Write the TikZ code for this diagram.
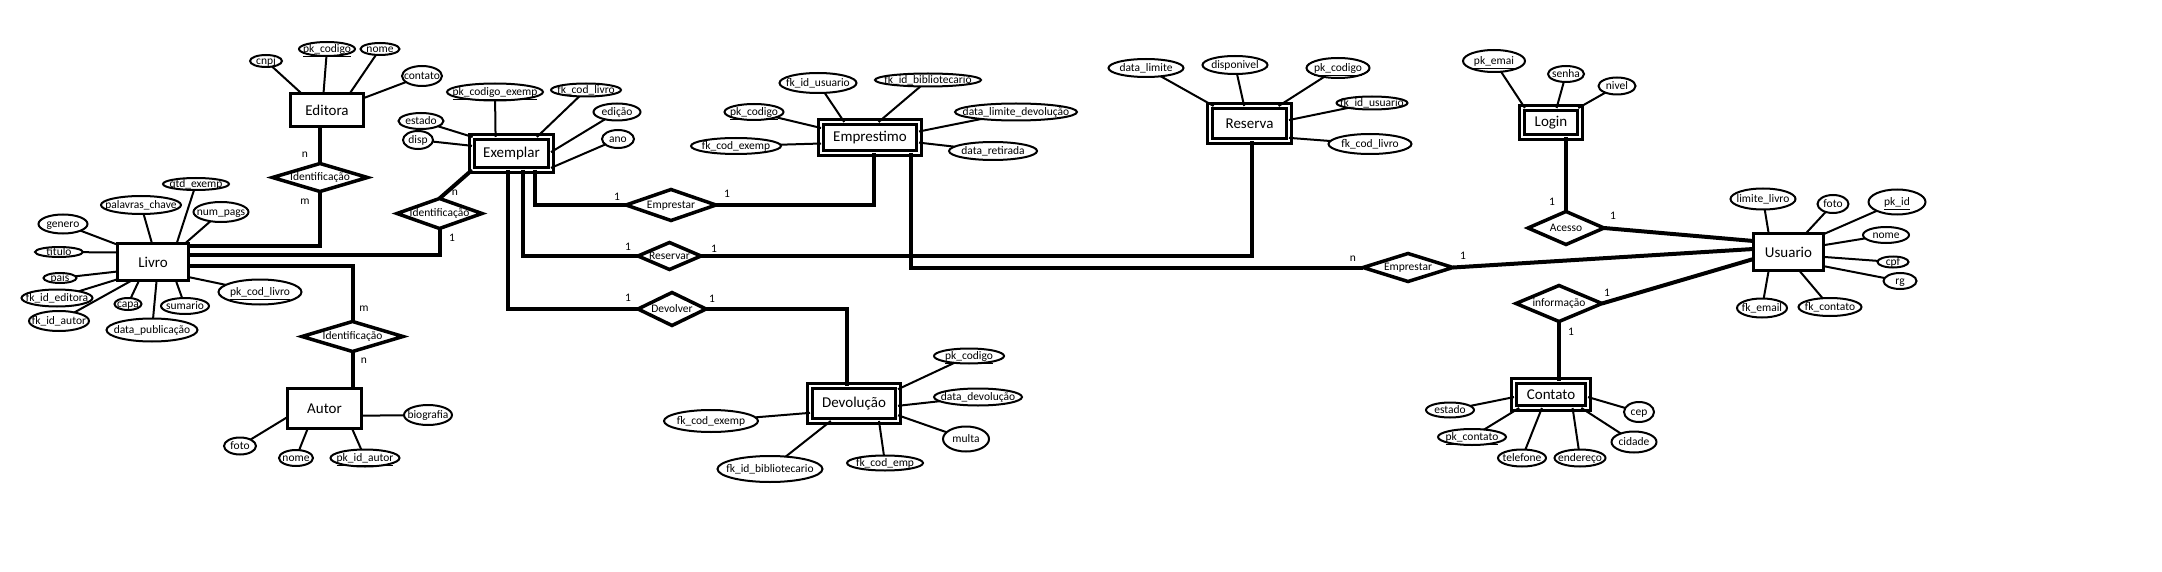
\documentclass[tikz,border=0pt]{standalone}
\usepackage{fontspec}
\setmainfont{Carlito}
\usetikzlibrary{shapes.geometric}
\newcommand{\mytxt}[1]{\makebox[0pt]{\raisebox{-0.3em}[0pt][0pt]{#1}}}
\tikzset{
 ent/.style={draw, line width=3pt, rectangle, inner sep=0pt, outer sep=0pt, font=\fontsize{15}{16}\selectfont},
 went/.style={ent, double, double distance=2pt},
 attr/.style={draw, ellipse, line width=2pt, inner sep=0pt, outer sep=0pt, font=\fontsize{11.5}{12}\selectfont},
 ell/.style 2 args={attr, minimum width=#1, minimum height=#2},
 rel/.style 2 args={draw, diamond, line width=3.5pt, inner sep=0pt, outer sep=0pt, minimum width=#1, minimum height=#2, font=\fontsize{11.5}{12}\selectfont},
 conn/.style={line width=4pt},
 aline/.style={line width=2pt},
 card/.style={inner sep=0pt, font=\fontsize{11.5}{12}\selectfont},
}
\begin{document}
\begin{tikzpicture}[x=1pt,y=-1pt]
\useasboundingbox (0,0) rectangle (2162,572);
% ---------- entities ----------
\node[ent, minimum width=73, minimum height=33] (ed) at (327,110) {Editora};
\node[ent, minimum width=71, minimum height=37] (livro) at (153,262) {Livro};
\node[ent, minimum width=74, minimum height=40] (au) at (324.5,408.5) {Autor};
\node[ent, minimum width=70, minimum height=37] (usr) at (1788.5,252) {Usuario};
\node[went, minimum width=79, minimum height=33] (ex) at (511.5,153.5) {Exemplar};
\node[went, minimum width=98, minimum height=31] (emo) at (870,137.5) {Emprestimo};
\node[went, minimum width=79, minimum height=35] (rsv) at (1249.5,123.5) {Reserva};
\node[went, minimum width=58, minimum height=29] (login) at (1551,122.5) {Login};
\node[went, minimum width=74, minimum height=27] (ct) at (1551,394.5) {Contato};
\node[went, minimum width=88, minimum height=35] (dvl) at (854,403.5) {Devolução};
% ---------- relationships ----------
\node[rel={95}{28}] (idEd) at (320,177.5) {\mytxt{Identificação}};
\node[rel={85}{30}] (idEx) at (439.5,213.5) {\mytxt{Identificação}};
\node[rel={101}{30}] (idAu) at (352.5,336.5) {\mytxt{Identificação}};
\node[rel={90}{31}] (emp1) at (671,205) {\mytxt{Emprestar}};
\node[rel={63}{27}] (res) at (669.5,256) {\mytxt{Reservar}};
\node[rel={68}{33}] (dev) at (672,309) {\mytxt{Devolver}};
\node[rel={90}{28}] (emp2) at (1408,267.5) {\mytxt{Emprestar}};
\node[rel={76}{33}] (ac) at (1566,228) {\mytxt{Acesso}};
\node[rel={86}{36}] (info) at (1559,303.5) {\mytxt{informação}};
% ---------- rail coordinates ----------
\coordinate (r1) at (0,246);
\coordinate (r2) at (0,255);
\coordinate (r3) at (0,266);
% ---------- connectors ----------
\draw[conn] (idEd.north) -- (idEd.north |- ed.south);
\draw[conn] (livro.east |- r1) -| (idEd.south);
\draw[conn] (livro.east |- r2) -| (idEx.south);
\draw[conn] (livro.east |- r3) -| (idAu.north);
\draw[conn] (idEx.north) -- (ex.south west);
\draw[conn] (idAu.south) -- (idAu.south |- au.north);
\draw[conn] ([xshift=23.5pt]ex.south) |- (emp1.west);
\draw[conn] ([xshift=11.5pt]ex.south) |- (res.west);
\draw[conn] ([xshift=-3.5pt]ex.south) |- (dev.west);
\draw[conn] (emp1.east) -| ([xshift=4pt]emo.south);
\draw[conn] (res.east) -| ([xshift=2.5pt]rsv.south);
\draw[conn] (dev.east) -| ([xshift=-7pt]dvl.north);
\draw[conn] ([xshift=41pt]emo.south) |- (emp2.west);
\draw[conn] (emp2.east) -- ([yshift=3pt]usr.west);
\draw[conn] (ac.east) -- ([yshift=11pt]usr.west);
\draw[conn] (info.east) -- ([yshift=-7pt]usr.west);
\draw[conn] (ac.north) -- (ac.north |- login.south);
\draw[conn] (info.south) -- (info.south |- ct.north);
% ---------- cardinalities ----------
\node[card] (k1) at (305,155) {n};
\node[card] (k2) at (305,202) {m};
\node[card] (k3) at (455,193) {n};
\node[card] (k4) at (452,238) {1};
\node[card] (k5) at (364,309) {m};
\node[card] (k6) at (364,361) {n};
\node[card] (k7) at (617,197) {1};
\node[card] (k8) at (727,194) {1};
\node[card] (k9) at (628,247) {1};
\node[card] (k10) at (714,249) {1};
\node[card] (k11) at (628,298) {1};
\node[card] (k12) at (712,299) {1};
\node[card] (k13) at (1353,259) {n};
\node[card] (k14) at (1463,256) {1};
\node[card] (k15) at (1552,202) {1};
\node[card] (k16) at (1613,216) {1};
\node[card] (k17) at (1607,293) {1};
\node[card] (k18) at (1571,332) {1};
% ---------- Editora attributes ----------
\node[ell={32}{12}] (ed1) at (266,61) {\mytxt{cnpj}};
\node[ell={56}{14}] (ed2) at (327,49) {\mytxt{\underline{pk\_codigo}}};
\node[ell={39}{12}] (ed3) at (380,49) {\mytxt{nome}};
\node[ell={40}{20}] (ed4) at (422,76) {\mytxt{contato}};
\draw[aline] (ed1) -- (ed.147);
\draw[aline] (ed2) -- (ed.102);
\draw[aline] (ed3) -- (ed.36);
\draw[aline] (ed4) -- (ed.18);
% ---------- Livro attributes ----------
\node[ell={49}{19}] (lv1) at (63,224) {\mytxt{genero}};
\node[ell={48}{10}] (lv2) at (59,252) {\mytxt{titulo}};
\node[ell={33}{10}] (lv3) at (60,278) {\mytxt{pais}};
\node[ell={71}{17}] (lv4) at (57,298) {\mytxt{fk\_id\_editora}};
\node[ell={60}{20}] (lv5) at (59,321) {\mytxt{fk\_id\_autor}};
\node[ell={27}{12}] (lv6) at (128,304) {\mytxt{capa}};
\node[ell={48}{16}] (lv7) at (185,306) {\mytxt{sumario}};
\node[ell={91}{23}] (lv8) at (152,330) {\mytxt{data\_publicação}};
\node[ell={83}{25}] (lv9) at (260,292) {\mytxt{\underline{pk\_cod\_livro}}};
\node[ell={80}{18}] (lv10) at (141,205) {\mytxt{palavras\_chave}};
\node[ell={55}{20}] (lv11) at (221,212) {\mytxt{num\_pags}};
\node[ell={66}{12}] (lv12) at (196,184) {\mytxt{qtd\_exemp}};
\draw[aline] (lv1) -- (livro.154);
\draw[aline] (lv2) -- (livro.165);
\draw[aline] (lv3) -- (livro.195);
\draw[aline] (lv4) -- (livro.206);
\draw[aline] (lv5) -- (livro.221);
\draw[aline] (lv6) -- (livro.233);
\draw[aline] (lv7) -- (livro.321);
\draw[aline] (lv8) -- (livro.281);
\draw[aline] (lv9) -- (livro.337);
\draw[aline] (lv10) -- (livro.93);
\draw[aline] (lv11) -- (livro.30);
\draw[aline] (lv12) -- (livro.38);
% ---------- Autor attributes ----------
\node[ell={48}{20}] (au1) at (428,415) {\mytxt{biografia}};
\node[ell={32}{17}] (au2) at (240,446) {\mytxt{foto}};
\node[ell={34}{16}] (au3) at (296,458) {\mytxt{nome}};
\node[ell={69}{17}] (au4) at (365,458) {\mytxt{\underline{pk\_id\_autor}}};
\draw[aline] (au1) -- (au.349);
\draw[aline] (au2) -- (au.193);
\draw[aline] (au3) -- (au.230);
\draw[aline] (au4) -- (au.324);
% ---------- Exemplar attributes ----------
\node[ell={45}{16}] (ex1) at (421,121) {\mytxt{estado}};
\node[ell={30}{18}] (ex2) at (418,140) {\mytxt{disp}};
\node[ell={96}{17}] (ex3) at (495,92) {\mytxt{\underline{pk\_codigo\_exemp}}};
\node[ell={70}{13}] (ex4) at (586,90) {\mytxt{fk\_cod\_livro}};
\node[ell={47}{17}] (ex5) at (617,112) {\mytxt{edição}};
\node[ell={32}{18}] (ex6) at (618,139) {\mytxt{ano}};
\draw[aline] (ex1) -- (ex.157);
\draw[aline] (ex2) -- (ex.169);
\draw[aline] (ex3) -- (ex.134);
\draw[aline] (ex4) -- (ex.33);
\draw[aline] (ex5) -- (ex.2);
\draw[aline] (ex6) -- (ex.340);
% ---------- Emprestimo attributes ----------
\node[ell={77}{20}] (em1) at (818,83) {\mytxt{fk\_id\_usuario}};
\node[ell={106}{13}] (em2) at (928,80) {\mytxt{fk\_id\_bibliotecario}};
\node[ell={59}{16}] (em3) at (754,112) {\mytxt{\underline{pk\_codigo}}};
\node[ell={90}{16}] (em4) at (736,146) {\mytxt{fk\_cod\_exemp}};
\node[ell={122}{17}] (em5) at (1016,112) {\mytxt{data\_limite\_devolução}};
\node[ell={88}{18}] (em6) at (993,151) {\mytxt{data\_retirada}};
\draw[aline] (em1) -- (emo.149);
\draw[aline] (em2) -- (emo.61);
\draw[aline] (em3) -- (emo.169);
\draw[aline] (em4) -- (emo.187);
\draw[aline] (em5) -- (emo.7);
\draw[aline] (em6) -- (emo.354);
% ---------- Reserva attributes ----------
\node[ell={75}{18}] (rs1) at (1146,68) {\mytxt{data\_limite}};
\node[ell={65}{18}] (rs2) at (1235,65) {\mytxt{disponivel}};
\node[ell={63}{20}] (rs3) at (1338,68) {\mytxt{\underline{pk\_codigo}}};
\node[ell={71}{13}] (rs4) at (1372,103) {\mytxt{fk\_id\_usuario}};
\node[ell={83}{20}] (rs5) at (1370,144) {\mytxt{fk\_cod\_livro}};
\draw[aline] (rs1) -- (rsv.154);
\draw[aline] (rs2) -- (rsv.107);
\draw[aline] (rs3) -- (rsv.31);
\draw[aline] (rs4) -- (rsv.5);
\draw[aline] (rs5) -- (rsv.340);
% ---------- Login attributes ----------
\node[ell={62}{22}] (lg1) at (1494,61) {\mytxt{\underline{pk\_emai}}};
\node[ell={36}{16}] (lg2) at (1566,74) {\mytxt{senha}};
\node[ell={37}{17}] (lg3) at (1617,86) {\mytxt{nivel}};
\draw[aline] (lg1) -- (login.151);
\draw[aline] (lg2) -- (login.69);
\draw[aline] (lg3) -- (login.28);
% ---------- Usuario attributes ----------
\node[ell={65}{21}] (us1) at (1763,199) {\mytxt{limite\_livro}};
\node[ell={31}{18}] (us2) at (1833,204) {\mytxt{foto}};
\node[ell={57}{25}] (us3) at (1897,202) {\mytxt{\underline{pk\_id}}};
\node[ell={46}{16}] (us4) at (1886,235) {\mytxt{nome}};
\node[ell={31}{11}] (us5) at (1893,262) {\mytxt{cpf}};
\node[ell={33}{16}] (us6) at (1900,281) {\mytxt{rg}};
\node[ell={50}{19}] (us7) at (1762,308) {\mytxt{fk\_email}};
\node[ell={63}{18}] (us8) at (1830,307) {\mytxt{fk\_contato}};
\draw[aline] (us1) -- (usr.137);
\draw[aline] (us2) -- (usr.47);
\draw[aline] (us3) -- (usr.27);
\draw[aline] (us4) -- (usr.11);
\draw[aline] (us5) -- (usr.352);
\draw[aline] (us6) -- (usr.338);
\draw[aline] (us7) -- (usr.223);
\draw[aline] (us8) -- (usr.300);
% ---------- Contato attributes ----------
\node[ell={48}{15}] (ct1) at (1450,410) {\mytxt{estado}};
\node[ell={68}{16}] (ct2) at (1472,437) {\mytxt{\underline{pk\_contato}}};
\node[ell={48}{17}] (ct3) at (1522,458) {\mytxt{telefone}};
\node[ell={51}{17}] (ct4) at (1580,458) {\mytxt{endereço}};
\node[ell={45}{21}] (ct5) at (1634,442) {\mytxt{cidade}};
\node[ell={30}{20}] (ct6) at (1639,412) {\mytxt{cep}};
\draw[aline] (ct1) -- (ct.184);
\draw[aline] (ct2) -- (ct.203);
\draw[aline] (ct3) -- (ct.236);
\draw[aline] (ct4) -- (ct.328);
\draw[aline] (ct5) -- (ct.336);
\draw[aline] (ct6) -- (ct.356);
% ---------- Devolucao attributes ----------
\node[ell={70}{15}] (dv1) at (969,356) {\mytxt{\underline{pk\_codigo}}};
\node[ell={88}{17}] (dv2) at (978,397) {\mytxt{data\_devolução}};
\node[ell={46}{25}] (dv3) at (966,439) {\mytxt{multa}};
\node[ell={76}{15}] (dv4) at (885,463) {\mytxt{fk\_cod\_emp}};
\node[ell={105}{26}] (dv5) at (770,469) {\mytxt{fk\_id\_bibliotecario}};
\node[ell={94}{22}] (dv6) at (711,421) {\mytxt{fk\_cod\_exemp}};
\draw[aline] (dv1) -- (dvl.18);
\draw[aline] (dv2) -- (dvl.357);
\draw[aline] (dv3) -- (dvl.345);
\draw[aline] (dv4) -- (dvl.325);
\draw[aline] (dv5) -- (dvl.217);
\draw[aline] (dv6) -- (dvl.192);
\end{tikzpicture}
\end{document}
